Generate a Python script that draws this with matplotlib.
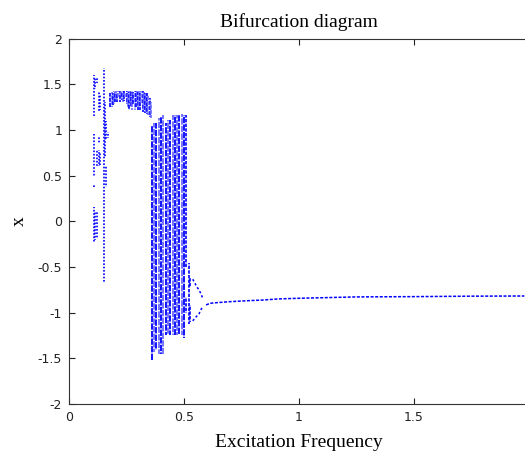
import matplotlib
matplotlib.use('Agg')
import matplotlib.pyplot as plt

# steady-state response x sampled against excitation frequency
# early windows: vertical spreads of the sampled points
early_freq = [0.108, 0.108, 0.108, 0.108, 0.113, 0.113, 0.123, 0.123, 0.123,
              0.130, 0.130, 0.130, 0.135, 0.135, 0.152, 0.157, 0.160, 0.160, 0.170]
early_lo = [1.15, 0.50, 0.36, -0.24, 1.45, -0.20, 1.51, 0.60, -0.18,
            1.20, 0.85, 0.60, 1.22, 0.62, -0.66, 0.70, 0.89, 0.38, 0.91]
early_hi = [1.60, 0.95, 0.40, 0.16, 1.58, 0.10, 1.57, 0.78, 0.10,
            1.41, 0.93, 0.78, 1.38, 0.75, 1.68, 1.30, 1.10, 0.60, 0.98]

# upper band between 0.18 and 0.36
band_freq = [0.180, 0.185, 0.190, 0.195, 0.200, 0.205, 0.210, 0.215, 0.220,
             0.225, 0.230, 0.235, 0.240, 0.245, 0.250, 0.255, 0.260, 0.265,
             0.270, 0.275, 0.280, 0.285, 0.290, 0.295, 0.300, 0.305, 0.310,
             0.315, 0.320, 0.325, 0.330, 0.335, 0.340, 0.345, 0.350, 0.355]
band_lo = [1.25, 1.25, 1.27, 1.28, 1.30, 1.33, 1.30, 1.35, 1.30,
           1.37, 1.33, 1.30, 1.32, 1.36, 1.28, 1.25, 1.22, 1.30,
           1.25, 1.22, 1.28, 1.22, 1.25, 1.30, 1.22, 1.25, 1.22,
           1.28, 1.20, 1.22, 1.18, 1.20, 1.17, 1.16, 1.14, 1.13]
band_hi = [1.40, 1.41, 1.40, 1.42, 1.41, 1.42, 1.40, 1.42, 1.43,
           1.42, 1.41, 1.43, 1.42, 1.40, 1.43, 1.42, 1.41, 1.43,
           1.42, 1.43, 1.41, 1.42, 1.43, 1.42, 1.41, 1.42, 1.40,
           1.42, 1.42, 1.41, 1.40, 1.40, 1.40, 1.38, 1.35, 1.30]

# chaotic region
chaos_freq = [0.36, 0.37, 0.38, 0.39, 0.40, 0.41, 0.42, 0.43, 0.44, 0.45,
              0.46, 0.47, 0.48, 0.49, 0.50]
chaos_lo = [-1.52, -1.43, -1.41, -1.45, -1.45, -1.45, -1.25, -1.25, -1.25,
            -1.25, -1.25, -1.25, -1.25, -1.25, -1.28]
chaos_hi = [1.05, 1.07, 1.08, 1.13, 1.14, 1.16, 1.07, 1.11, 1.11, 1.16,
            1.16, 1.16, 1.17, 1.17, 1.16]

# way out of chaos
trans_freq = [0.51, 0.51, 0.52, 0.527, 0.527]
trans_lo = [-0.50, -1.00, -1.12, -0.72, -1.10]
trans_hi = [1.16, -0.83, -0.46, -0.62, -0.92]

# period-2 branches
p2_freq = [0.538, 0.548, 0.555, 0.565, 0.573, 0.581]
p2_upper = [-0.635, -0.68, -0.716, -0.75, -0.79, -0.84]
p2_lower = [-1.09, -1.06, -1.04, -1.015, -0.97, -0.935]

# period-1 tail
tail_freq = [0.596, 0.613, 0.642, 0.70, 0.773, 0.845, 0.91, 1.0, 1.25, 1.5, 1.75, 1.98]
tail_x = [-0.916, -0.898, -0.891, -0.88, -0.87, -0.862, -0.85, -0.843, -0.828,
          -0.825, -0.82, -0.818]

xticks = [0, 0.5, 1, 1.5]
yticks = [-2, -1.5, -1, -0.5, 0, 0.5, 1, 1.5, 2]

fig = plt.figure(figsize=(5.25, 4.51), dpi=100)
# the axes runs slightly past the right edge of the figure
ax = fig.add_axes([69 / 525, 47 / 451, 460 / 525, 365.5 / 451])

blue = '#0000ff'
light = '#6a6aff'


def staggered(n, on, off):
    # shift the dash pattern column by column so the gaps do not line up
    return [((i * 1.7) % (on + off), (on, off)) for i in range(n)]


def alternating(n):
    return [blue if i % 2 == 0 else light for i in range(n)]


ax.vlines(early_freq, early_lo, early_hi, colors=blue, linewidth=1.2,
          linestyles=staggered(len(early_freq), 1.0, 1.0))
ax.vlines(band_freq, band_lo, band_hi, colors=alternating(len(band_freq)),
          linewidth=1.2, linestyles=staggered(len(band_freq), 2.5, 0.6))
ax.vlines(chaos_freq, chaos_lo, chaos_hi, colors=alternating(len(chaos_freq)),
          linewidth=1.3, linestyles=staggered(len(chaos_freq), 3.5, 0.7))
ax.vlines(trans_freq, trans_lo, trans_hi, colors=blue, linewidth=1.2,
          linestyles=staggered(len(trans_freq), 2.0, 0.8))
ax.plot(p2_freq, p2_upper, color=blue, linewidth=1.1, linestyle=(0, (1.5, 1.5)))
ax.plot(p2_freq, p2_lower, color=blue, linewidth=1.1, linestyle=(0, (1.5, 1.5)))
ax.plot(tail_freq, tail_x, color=blue, linewidth=1.1, linestyle=(0, (2.0, 1.0)))

ax.set_xlim(0, 2)
ax.set_ylim(-2, 2)
ax.set_xticks(xticks)
ax.set_yticks(yticks)
ax.set_xticklabels(['0', '0.5', '1', '1.5'])
ax.set_yticklabels(['-2', '-1.5', '-1', '-0.5', '0', '0.5', '1', '1.5', '2'])
ax.tick_params(direction='in', length=4, width=0.8, top=True, right=False,
               labelsize=9, pad=5, colors='#222222')
for lbl in ax.get_xticklabels() + ax.get_yticklabels():
    lbl.set_family('DejaVu Sans')
for side in ['left', 'bottom', 'top']:
    ax.spines[side].set_color('#333333')
    ax.spines[side].set_linewidth(0.8)
ax.spines['right'].set_visible(False)

ax.set_title('Bifurcation diagram', family='Liberation Serif', fontsize=14, pad=8)
ax.set_xlabel('Excitation Frequency', family='Liberation Serif', fontsize=14, labelpad=7)
ax.set_ylabel('x', family='Liberation Serif', fontsize=14, labelpad=7)

fig.savefig('out.png', dpi=100)
